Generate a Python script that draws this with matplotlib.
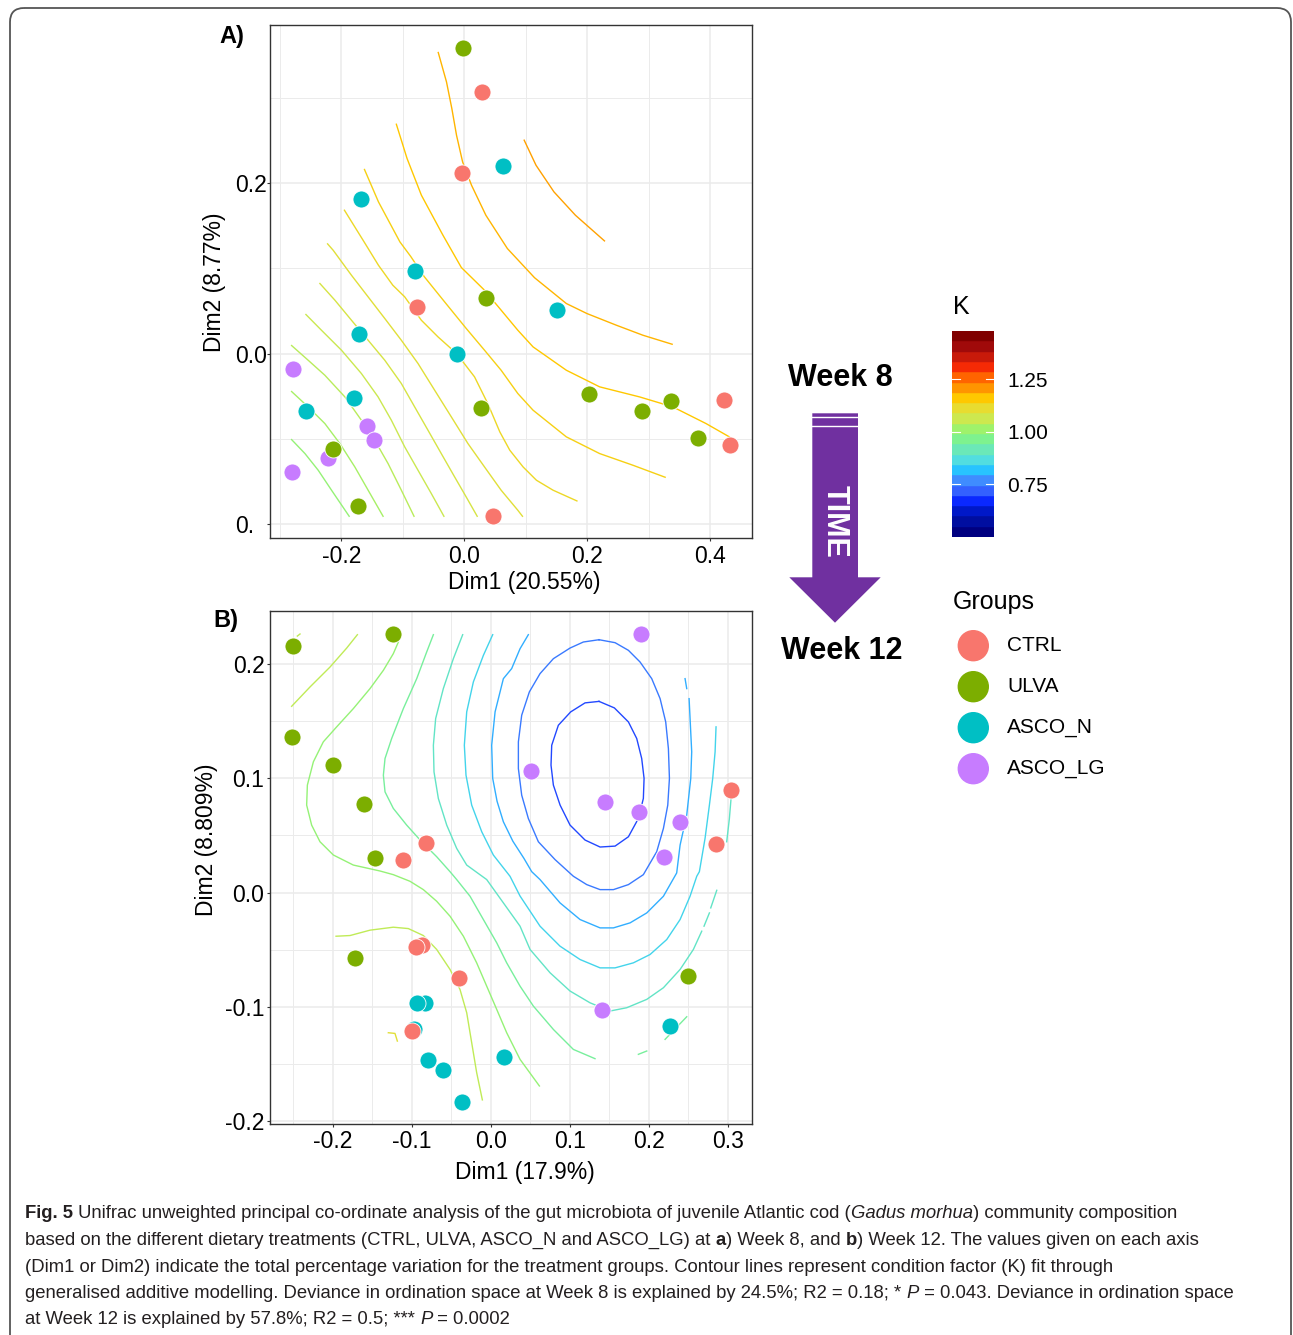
import matplotlib
matplotlib.use("Agg")
import matplotlib.pyplot as plt
from matplotlib import font_manager
from matplotlib.colors import LinearSegmentedColormap
from matplotlib.patches import Polygon, Circle, FancyBboxPatch

plt.rcParams['font.family'] = ['Liberation Sans', 'DejaVu Sans']

W, H = 1293, 1335

# ---------------- data ----------------
group_names = ['CTRL', 'ULVA', 'ASCO_N', 'ASCO_LG']
group_colors = ['#F8766D', '#7CAE00', '#00BFC4', '#C77CFF']
draw_order = ['ASCO_LG', 'ASCO_N', 'ULVA', 'CTRL']

# Week 8 (panel A) sample scores
wk8_x = {
    'CTRL': [0.028, -0.004, -0.0776, 0.4215, 0.4323, 0.0462],
    'ULVA': [-0.002, 0.0348, 0.2025, 0.2884, 0.3355, 0.0273, 0.3804, -0.2138, -0.1722],
    'ASCO_N': [0.062, -0.168, -0.0803, 0.150, -0.1711, -0.0127, -0.1798, -0.2571],
    'ASCO_LG': [-0.2793, -0.1587, -0.1474, -0.2214, -0.2809],
}
wk8_y = {
    'CTRL': [0.3075, 0.2124, 0.0547, -0.0544, -0.1069, -0.1910],
    'ULVA': [0.3583, 0.0657, -0.0478, -0.0669, -0.0556, -0.0634, -0.0991, -0.1119, -0.1784],
    'ASCO_N': [0.2198, 0.1815, 0.0970, 0.0508, 0.0235, 0.0, -0.0521, -0.0678],
    'ASCO_LG': [-0.0184, -0.0850, -0.1017, -0.1221, -0.1393],
}

# Week 12 (panel B) sample scores
wk12_x = {
    'CTRL': [0.3047, -0.0819, 0.2852, -0.1110, -0.0865, -0.0946, -0.0401, -0.0996],
    'ULVA': [-0.2499, -0.1233, -0.2520, -0.2001, -0.1608, -0.1469, -0.1714, 0.2502],
    'ASCO_N': [-0.0828, -0.0937, -0.0967, -0.0798, -0.0608, -0.0359, 0.0173, 0.2274],
    'ASCO_LG': [0.1899, 0.0514, 0.1451, 0.1873, 0.2401, 0.2190, 0.1405],
}
wk12_y = {
    'CTRL': [0.0900, 0.0437, 0.0428, 0.0282, -0.0457, -0.0475, -0.0746, -0.1209],
    'ULVA': [0.2162, 0.2261, 0.1360, 0.1118, 0.0772, 0.0305, -0.0571, -0.0731],
    'ASCO_N': [-0.0967, -0.0967, -0.1192, -0.1466, -0.1553, -0.1830, -0.1439, -0.1168],
    'ASCO_LG': [0.2261, 0.1066, 0.0792, 0.0708, 0.0614, 0.0314, -0.1029],
}

# GAM contour lines of K, week 8
wk8_levels = [1.20, 1.18, 1.16, 1.14, 1.12, 1.10, 1.08, 1.06, 1.04, 1.02, 1.00]
wk8_lines_x = [
    [0.0972, 0.1164, 0.1456, 0.1805, 0.2277],
    [-0.0425, -0.0291, -0.0204, -0.0128, -0.0029, 0.0116, 0.0349, 0.0699, 0.1140, 0.1657, 0.1993, 0.2468, 0.2901, 0.3377],
    [-0.1106, -0.0932, -0.0699, -0.0349, -0.0050, 0.0327, 0.0597, 0.0868, 0.1116, 0.1657, 0.2198, 0.2847, 0.3387, 0.3928, 0.4307],
    [-0.1624, -0.1397, -0.1048, -0.0873, -0.0650, -0.0300, 0.0030, 0.0327, 0.0597, 0.0868, 0.1116, 0.1657, 0.2198, 0.2739, 0.3263],
    [-0.1950, -0.1630, -0.1397, -0.1164, -0.0970, -0.0700, -0.0430, -0.0127, 0.0165, 0.0380, 0.0576, 0.0738, 0.0954, 0.1171, 0.1441, 0.1829],
    [-0.2224, -0.2133, -0.1836, -0.1565, -0.1294, -0.1025, -0.0754, -0.0484, -0.0213, 0.0057, 0.0327, 0.0597, 0.0868, 0.0944],
    [-0.2349, -0.2105, -0.1836, -0.1565, -0.1294, -0.1025, -0.0808, -0.0592, -0.0376, -0.0159, 0.0029, 0.0208],
    [-0.2576, -0.2323, -0.1998, -0.1674, -0.1403, -0.1187, -0.0970, -0.0754, -0.0538, -0.0333],
    [-0.2809, -0.2539, -0.2268, -0.1943, -0.1674, -0.1457, -0.1241, -0.1025, -0.0819],
    [-0.2809, -0.2539, -0.2268, -0.2025, -0.1781, -0.1565, -0.1322],
    [-0.2809, -0.2592, -0.2376, -0.2160, -0.1873],
]
wk8_lines_y = [
    [0.2504, 0.2210, 0.1897, 0.1623, 0.1322],
    [0.3533, 0.3188, 0.2875, 0.2562, 0.2249, 0.1975, 0.1623, 0.1232, 0.0890, 0.0587, 0.0469, 0.0333, 0.0215, 0.0109],
    [0.2691, 0.2289, 0.1858, 0.1389, 0.1010, 0.0743, 0.0509, 0.0274, 0.0078, -0.0196, -0.0391, -0.0509, -0.0626, -0.0822, -0.0978],
    [0.2160, 0.1780, 0.1310, 0.1140, 0.0900, 0.0587, 0.0294, 0.0039, -0.0196, -0.0469, -0.0665, -0.0978, -0.1174, -0.1311, -0.1452],
    [0.1682, 0.1310, 0.1036, 0.0802, 0.0665, 0.0391, 0.0196, 0.0, -0.0274, -0.0587, -0.0920, -0.1135, -0.1331, -0.1487, -0.1604, -0.1730],
    [0.1287, 0.1212, 0.0919, 0.0665, 0.0411, 0.0156, -0.0117, -0.0430, -0.0743, -0.1056, -0.1331, -0.1604, -0.1839, -0.1910],
    [0.0822, 0.0626, 0.0391, 0.0156, -0.0079, -0.0352, -0.0627, -0.0900, -0.1174, -0.1448, -0.1683, -0.1910],
    [0.0458, 0.0273, 0.0039, -0.0235, -0.0509, -0.0783, -0.1096, -0.1370, -0.1643, -0.1910],
    [0.0094, -0.0079, -0.0255, -0.0509, -0.0783, -0.1018, -0.1291, -0.1604, -0.1910],
    [-0.0446, -0.0627, -0.0822, -0.1056, -0.1331, -0.1604, -0.1910],
    [-0.1010, -0.1174, -0.1370, -0.1604, -0.1910],
]

# GAM contour lines of K, week 12 (one entry per drawn piece)
wk12_levels = [0.70, 0.75, 0.80, 0.80, 0.85, 0.90, 0.90, 0.90, 0.90,
               0.95, 0.95, 0.95, 1.00, 1.05, 1.05, 1.05, 1.10]
wk12_lines_x = [
    [0.1371, 0.1565, 0.1743, 0.1848, 0.1911, 0.1941, 0.1932, 0.1869, 0.1743, 0.1574, 0.1384, 0.1194, 0.1004, 0.0878, 0.0793, 0.0763, 0.0772, 0.0856, 0.1012, 0.1194, 0.1371],
    [0.1371, 0.1574, 0.1743, 0.1890, 0.2038, 0.2144, 0.2215, 0.2249, 0.2262, 0.2241, 0.2186, 0.2101, 0.1932, 0.1743, 0.1553, 0.1384, 0.1215, 0.1046, 0.0814, 0.0603, 0.0476, 0.0392, 0.0350, 0.0350, 0.0392, 0.0489, 0.0624, 0.0793, 0.1004, 0.1173, 0.1371],
    [0.0476, 0.0371, 0.0265, 0.0160, 0.0055, 0.0012, 0.0025, 0.0080, 0.0160, 0.0280, 0.0420, 0.0519, 0.0624, 0.0877, 0.1131, 0.1384, 0.1553, 0.1764, 0.1975, 0.2186, 0.2354, 0.2397, 0.2481, 0.2532, 0.2544, 0.2511],
    [0.2481, 0.2460],
    [0.0025, -0.0093, -0.0220, -0.0304, -0.0334, -0.0313, -0.0241, -0.0114, 0.0033, 0.0244, 0.0371, 0.0624, 0.0877, 0.1131, 0.1384, 0.1574, 0.1806, 0.2017, 0.2228, 0.2397, 0.2523, 0.2608, 0.2641, 0.2713, 0.2768, 0.2810, 0.2840, 0.2852],
    [-0.0355, -0.0473, -0.0600, -0.0697, -0.0726, -0.0718, -0.0663, -0.0557, -0.0431, -0.0304, -0.0051, 0.0160, 0.0371, 0.0498, 0.0751, 0.1004, 0.1257, 0.1510, 0.1722, 0.1975, 0.2186, 0.2397, 0.2565, 0.2671],
    [0.2700, 0.2768],
    [0.2785, 0.2861],
    [0.3042, 0.3021, 0.2987],
    [-0.0726, -0.0811, -0.0937, -0.1106, -0.1254, -0.1338, -0.1359, -0.1338, -0.1233, -0.1064, -0.0874, -0.0684, -0.0515, -0.0431, -0.0262, -0.0093, 0.0076, 0.0202, 0.0371, 0.0540, 0.0793, 0.1046, 0.1320],
    [0.1869, 0.1975],
    [0.2207, 0.2481],
    [-0.1169, -0.1233, -0.1359, -0.1528, -0.1739, -0.1950, -0.2119, -0.2245, -0.2321, -0.2330, -0.2267, -0.2161, -0.1992, -0.1739, -0.1401, -0.1233, -0.1022, -0.0853, -0.0684, -0.0515, -0.0346, -0.0178, -0.0051, 0.0076, 0.0202, 0.0371, 0.0616],
    [-0.2520, -0.2288, -0.2034, -0.1823, -0.1688],
    [-0.2448, -0.2414],
    [-0.1958, -0.1781, -0.1528, -0.1233, -0.1043, -0.0853, -0.0684, -0.0515, -0.0389, -0.0304, -0.0241, -0.0178, -0.0106],
    [-0.1296, -0.1212, -0.1182],
]
wk12_lines_y = [
    [0.1674, 0.1617, 0.1494, 0.1349, 0.1174, 0.1000, 0.0824, 0.0649, 0.0489, 0.0407, 0.0399, 0.0460, 0.0591, 0.0766, 0.0941, 0.1116, 0.1290, 0.1465, 0.1582, 0.1661, 0.1674],
    [0.2214, 0.2188, 0.2121, 0.2019, 0.1873, 0.1698, 0.1494, 0.1261, 0.1000, 0.0766, 0.0562, 0.0358, 0.0157, 0.0070, 0.0026, 0.0026, 0.0070, 0.0143, 0.0289, 0.0445, 0.0649, 0.0853, 0.1086, 0.1320, 0.1553, 0.1757, 0.1917, 0.2048, 0.2141, 0.2194, 0.2214],
    [0.2258, 0.2135, 0.1961, 0.1873, 0.1582, 0.1290, 0.1000, 0.0800, 0.0620, 0.0450, 0.0300, 0.0183, 0.0114, -0.0090, -0.0236, -0.0309, -0.0309, -0.0265, -0.0178, -0.0032, 0.0172, 0.0416, 0.0679, 0.1000, 0.1232, 0.1698],
    [0.1786, 0.1873],
    [0.2258, 0.2077, 0.1844, 0.1582, 0.1290, 0.1028, 0.0766, 0.0533, 0.0329, 0.0143, -0.0030, -0.0294, -0.0469, -0.0586, -0.0659, -0.0659, -0.0615, -0.0542, -0.0411, -0.0236, -0.0032, 0.0143, 0.0183, 0.0475, 0.0766, 0.1000, 0.1232, 0.1451],
    [0.2258, 0.2048, 0.1786, 0.1524, 0.1290, 0.1057, 0.0824, 0.0591, 0.0387, 0.0241, 0.0114, -0.0090, -0.0294, -0.0498, -0.0702, -0.0862, -0.0965, -0.1037, -0.1008, -0.0935, -0.0833, -0.0673, -0.0498, -0.0338],
    [-0.0294, -0.0178],
    [-0.0134, 0.0020],
    [0.0824, 0.0649, 0.0445],
    [0.2258, 0.2106, 0.1873, 0.1611, 0.1349, 0.1174, 0.1028, 0.0882, 0.0737, 0.0591, 0.0445, 0.0314, 0.0183, 0.0114, -0.0032, -0.0236, -0.0440, -0.0615, -0.0819, -0.0994, -0.1198, -0.1373, -0.1454],
    [-0.1416, -0.1387],
    [-0.1285, -0.1087],
    [0.2194, 0.2092, 0.1946, 0.1786, 0.1611, 0.1451, 0.1320, 0.1145, 0.0941, 0.0766, 0.0591, 0.0445, 0.0329, 0.0241, 0.0189, 0.0157, 0.0099, 0.0026, -0.0076, -0.0207, -0.0382, -0.0615, -0.0819, -0.1023, -0.1227, -0.1460, -0.1693],
    [0.1631, 0.1800, 0.1975, 0.2141, 0.2258],
    [0.2246, 0.2264],
    [-0.0382, -0.0376, -0.0329, -0.0303, -0.0315, -0.0376, -0.0498, -0.0673, -0.0848, -0.1052, -0.1314, -0.1576, -0.1815],
    [-0.1227, -0.1233, -0.1300],
]

# K colour bar, bottom band to top band
k_bands = ['#000080', '#000ea0', '#0018c8', '#0a28ff', '#3360ff', '#3f8cff', '#28c3ff',
           '#52dde0', '#6be8b8', '#7ef28f', '#9ff26b', '#cde84f', '#e8dc30', '#ffc800',
           '#ff9500', '#ff6400', '#f52a05', '#c81a0a', '#a00a0a', '#800000']
k_min, k_max = 0.497, 1.481
k_ticks = [0.75, 1.00, 1.25]
k_tick_labels = ['0.75', '1.00', '1.25']

caption_lines = [
    [("Fig. 5", 'bold', 'normal'),
     (" Unifrac unweighted principal co-ordinate analysis of the gut microbiota of juvenile Atlantic cod (", 'normal', 'normal'),
     ("Gadus morhua", 'normal', 'italic'),
     (") community composition", 'normal', 'normal')],
    [("based on the different dietary treatments (CTRL, ULVA, ASCO_N and ASCO_LG) at ", 'normal', 'normal'),
     ("a", 'bold', 'normal'),
     (") Week 8, and ", 'normal', 'normal'),
     ("b", 'bold', 'normal'),
     (") Week 12. The values given on each axis", 'normal', 'normal')],
    [("(Dim1 or Dim2) indicate the total percentage variation for the treatment groups. Contour lines represent condition factor (K) fit through", 'normal', 'normal')],
    [("generalised additive modelling. Deviance in ordination space at Week 8 is explained by 24.5%; R2 = 0.18; * ", 'normal', 'normal'),
     ("P", 'normal', 'italic'),
     (" = 0.043. Deviance in ordination space", 'normal', 'normal')],
    [("at Week 12 is explained by 57.8%; R2 = 0.5; *** ", 'normal', 'normal'),
     ("P", 'normal', 'italic'),
     (" = 0.0002", 'normal', 'normal')],
]
# right edge of each caption line in the reference
caption_right = [1262, 1231, 1193, 1277, 513]

# ---------------- colour scale ----------------
pos = [0.0] + [(i + 0.5) / len(k_bands) for i in range(len(k_bands))] + [1.0]
cols = [k_bands[0]] + k_bands + [k_bands[-1]]
k_cmap = LinearSegmentedColormap.from_list('k_scale', list(zip(pos, cols)))


def k_color(v):
    return k_cmap((v - k_min) / (k_max - k_min))


def px_rect(l, t, r, b):
    return [l / W, 1 - b / H, (r - l) / W, (b - t) / H]


fig = plt.figure(figsize=(W / 100, H / 100), dpi=100)
ov = fig.add_axes([0, 0, 1, 1])
ov.set_xlim(0, W)
ov.set_ylim(H, 0)
ov.axis('off')

# outer frame
ov.add_patch(FancyBboxPatch((10, 8), 1281, 1380, boxstyle='round,pad=0,rounding_size=14',
                            fill=False, ec='#555555', lw=1.3))


def draw_panel(ax, px, py, levels, lx, ly, xlim, ylim, xmaj, xmin, ymaj, ymin, xlab, ylab):
    ax.set_xlim(xlim)
    ax.set_ylim(ylim)
    ax.set_xticks(xmaj)
    ax.set_xticks(xmin, minor=True)
    ax.set_yticks(ymaj)
    ax.set_yticks(ymin, minor=True)
    ax.set_xticklabels(xlab)
    ax.set_yticklabels(ylab)
    ax.grid(which='major', color='#ebebeb', lw=1.1)
    ax.grid(which='minor', color='#ebebeb', lw=0.7)
    ax.set_axisbelow(True)
    ax.tick_params(which='minor', length=0)
    ax.tick_params(which='major', length=2.5, width=0.8, color='#333333',
                   labelsize=16.5, labelcolor='black')
    for s in ax.spines.values():
        s.set_color('#333333')
        s.set_linewidth(1.0)
    for v, xs, ys in zip(levels, lx, ly):
        ax.plot(xs, ys, color=k_color(v), lw=1.0, solid_joinstyle='round', zorder=2)
    for g in draw_order:
        c = group_colors[group_names.index(g)]
        ax.scatter(px[g], py[g], s=150, color=c, edgecolors='white', linewidths=0.6, zorder=3)


axA = fig.add_axes(px_rect(270, 25, 752.3, 538.5))
draw_panel(axA, wk8_x, wk8_y, wk8_levels, wk8_lines_x, wk8_lines_y,
           (-0.316, 0.468), (-0.2171, 0.3856),
           [-0.2, 0.0, 0.2, 0.4], [-0.3, -0.1, 0.1, 0.3],
           [-0.2, 0.0, 0.2], [-0.1, 0.1, 0.3],
           ['-0.2', '0.0', '0.2', '0.4'], ['0.', '0.0', '0.2'])
axA.tick_params(axis='x', pad=2.5)
axA.tick_params(axis='y', pad=22.5)
for lbl in axA.get_yticklabels():
    lbl.set_horizontalalignment('left')

axB = fig.add_axes(px_rect(270, 610.7, 752.3, 1124))
draw_panel(axB, wk12_x, wk12_y, wk12_levels, wk12_lines_x, wk12_lines_y,
           (-0.2794, 0.3311), (-0.2026, 0.2468),
           [-0.2, -0.1, 0.0, 0.1, 0.2, 0.3], [-0.25, -0.15, -0.05, 0.05, 0.15, 0.25],
           [-0.2, -0.1, 0.0, 0.1, 0.2], [-0.15, -0.05, 0.05, 0.15],
           ['-0.2', '-0.1', '0.0', '0.1', '0.2', '0.3'], ['-0.2', '-0.1', '0.0', '0.1', '0.2'])
axB.tick_params(axis='x', pad=1.5)
axB.tick_params(axis='y', pad=1.5)

# axis titles and panel tags
ov.text(524, 583, 'Dim1 (20.55%)', fontsize=16.5, ha='center', va='center')
ov.text(215, 282, 'Dim2 (8.77%)', fontsize=16.5, ha='center', va='center', rotation=90)
ov.text(525, 1173, 'Dim1 (17.9%)', fontsize=16.5, ha='center', va='center')
ov.text(207, 840, 'Dim2 (8.809%)', fontsize=16.5, ha='center', va='center', rotation=90)
ov.text(232, 36, 'A)', fontsize=17, fontweight='bold', ha='center', va='center')
ov.text(226, 621, 'B)', fontsize=17, fontweight='bold', ha='center', va='center')

# time arrow
ov.add_patch(Polygon([(812.3, 413.3), (858, 413.3), (858, 577.3), (880.7, 577.3),
                      (835, 622.7), (789.3, 577.3), (812.3, 577.3)],
                     closed=True, fc='#7030a0', ec='none'))
for yy in (417.3, 425.7):
    ov.plot([812.3, 858], [yy, yy], color='white', lw=1.0)
ov.text(835, 521, 'TIME', color='white', fontsize=22, fontweight='bold',
        rotation=-90, ha='center', va='center')
ov.text(840, 378, 'Week 8', fontsize=22, fontweight='bold', ha='center', va='center')
ov.text(842, 651, 'Week 12', fontsize=22, fontweight='bold', ha='center', va='center')

# colour bar
cb = fig.add_axes(px_rect(952, 331, 994, 537))
dk = (k_max - k_min) / len(k_bands)
for i, c in enumerate(k_bands):
    cb.bar(0.5, dk, bottom=k_min + i * dk, width=1.0, color=c, edgecolor=c, lw=0.3)
for v in k_ticks:
    cb.plot([0, 0.2], [v, v], color='white', lw=0.8)
    cb.plot([0.8, 1], [v, v], color='white', lw=0.8)
cb.set_xlim(0, 1)
cb.set_ylim(k_min, k_max)
cb.set_xticks([])
cb.yaxis.tick_right()
cb.set_yticks(k_ticks)
cb.set_yticklabels(k_tick_labels)
cb.tick_params(length=0, pad=9.4, labelsize=15)
for s in cb.spines.values():
    s.set_visible(False)
ov.text(953, 307, 'K', fontsize=18, ha='left', va='center')

# group legend
ov.text(953, 601.7, 'Groups', fontsize=18, ha='left', va='center')
for i, (name, col) in enumerate(zip(group_names, group_colors)):
    yy = 645.7 + i * 41
    ov.add_patch(Circle((973.3, yy), 15, color=col))
    ov.text(1007, yy, name, fontsize=15, ha='left', va='center')


# caption
def pick_font(names):
    for n in names:
        try:
            font_manager.findfont(n, fallback_to_default=False)
            return n
        except ValueError:
            pass
    return 'DejaVu Sans'


cap_font = pick_font(['Liberation Sans Narrow', 'Liberation Sans'])
renderer = fig.canvas.get_renderer()


def text_w(s, size, weight, style):
    kw = dict(fontsize=size, fontweight=weight, fontstyle=style, family=cap_font)
    t = ov.text(0, 0, '|' + s + '|', **kw)
    w1 = t.get_window_extent(renderer).width
    t.remove()
    t = ov.text(0, 0, '||', **kw)
    w0 = t.get_window_extent(renderer).width
    t.remove()
    return w1 - w0


cap_left = 25.0
base = 10.0
ratios = []
for runs, right in zip(caption_lines, caption_right):
    w_line = sum(text_w(s, base, wt, st) for s, wt, st in runs)
    ratios.append((right - cap_left) / w_line)
cap_size = base * min(ratios)

for li, runs in enumerate(caption_lines):
    x = cap_left
    yb = 1218.5 + li * 26.5
    for s, wt, st in runs:
        ov.text(x, yb, s, fontsize=cap_size, fontweight=wt, fontstyle=st, family=cap_font,
                color='#231f20', ha='left', va='baseline')
        x += text_w(s, cap_size, wt, st)

fig.savefig('out.png', dpi=100)
